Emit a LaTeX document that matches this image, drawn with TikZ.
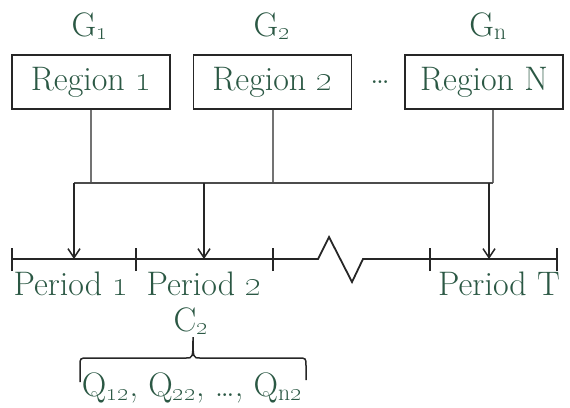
\documentclass[tikz,border=0pt]{standalone}
\usetikzlibrary{arrows.meta}
\definecolor{ink}{HTML}{2B5844}
\newcommand{\osn}[1]{\oldstylenums{#1}}
\tikzset{
  lbl/.style={text=ink, font=\fontsize{34}{40}\selectfont, inner sep=0pt},
  regionbox/.style={lbl, draw=black!85, line width=1.8pt, minimum width=158pt, minimum height=54pt},
  feed/.style={draw=black!55, line width=2pt},
  bus/.style={draw=black!70, line width=2.5pt},
  drop/.style={draw=black!85, line width=1.5pt, -{Straight Barb[length=9pt,width=12pt]}},
  axis/.style={draw=black!85, line width=1.8pt},
  tick/.style={draw=black!85, line width=1.5pt},
  curly/.style={draw=black!85, line width=1.5pt},
}
\begin{document}
\begin{tikzpicture}[x=1pt,y=-1pt]
\useasboundingbox (0,0) rectangle (570,407);

% regions and their generation labels
\node[regionbox] (r1) at (91,82) {Region \osn{1}};
\node[regionbox] (r2) at (272.5,82) {Region \osn{2}};
\node[regionbox] (rN) at (484,82) {Region N};
\node[lbl] (g1) at (90,26) {G\textsubscript{\osn{1}}};
\node[lbl] (g2) at (272,26) {G\textsubscript{\osn{2}}};
\node[lbl] (gn) at (488,26) {G\textsubscript{n}};
\node[lbl] (dots) at (380,82) {\dots};

% timeline
\coordinate (a0) at (12,259);
\coordinate (a1) at (136,259);
\coordinate (a2) at (273,259);
\coordinate (a3) at (430,259);
\coordinate (a4) at (557,259);
\coordinate (t1) at (74,259);
\coordinate (t2) at (204,259);
\coordinate (tT) at (489,259);
\draw[axis] (a0) -- (318,259) -- (329,237) -- (352,282) -- (363,259) -- (a4);
\foreach \p in {a0,a1,a2,a3,a4}
  \draw[tick] ([yshift=-12pt]\p) -- ([yshift=11pt]\p);

% collecting bus
\coordinate (b1) at (74,183);
\coordinate (b2) at (204,183);
\coordinate (bT) at (489,183);
\coordinate (bN) at (493,183);
\draw[feed] (r1.south) -- (r1.south |- b1);
\draw[feed] (r2.south) -- (r2.south |- b1);
\draw[feed] (rN.south -| bN) -- (bN);
\draw[bus] (b1) -- (bN);

% deliveries to periods
\draw[drop] (b1) -- (t1);
\draw[drop] (b2) -- (t2);
\draw[drop] (bT) -- (tT);

% period labels
\node[lbl] (p1) at (71,284) {Period \osn{1}};
\node[lbl] (p2) at (204,284) {Period \osn{2}};
\node[lbl] (pT) at (499,284) {Period T};
\node[lbl] (c2) at (191,321) {C\textsubscript{\osn{2}}};

% brace over the period-2 quantities
\draw[curly] (80,382) -- (80,366) .. controls (80,358) .. (88,358) -- (186,358)
  .. controls (193,358) .. (193,337) .. controls (193,358) .. (200,358)
  -- (298,358) .. controls (306,358) .. (306,366) -- (306,380);
\node[lbl] (q) at (192,388) {Q\textsubscript{\osn{12}}, Q\textsubscript{\osn{22}}, \dots, Q\textsubscript{n\osn{2}}};
\end{tikzpicture}
\end{document}
